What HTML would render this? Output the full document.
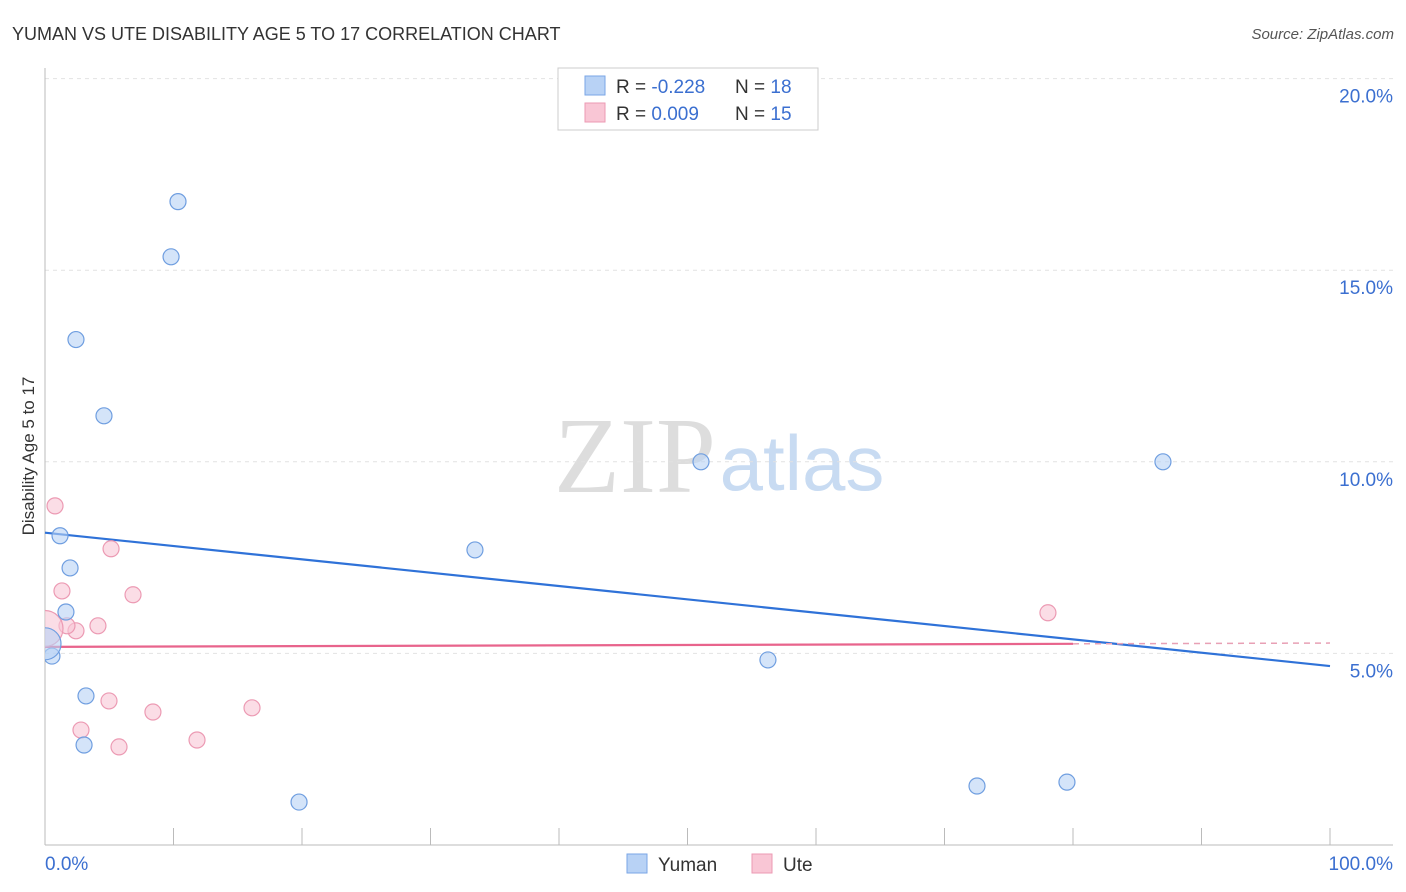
<!DOCTYPE html>
<html><head><meta charset="utf-8">
<style>
body{margin:0;background:#fff;font-family:"Liberation Sans",sans-serif;}
svg{display:block}
</style></head>
<body>
<svg id="chart" width="1406" height="892">
<defs><clipPath id="plotclip"><rect x="45" y="60" width="1360" height="785"/></clipPath></defs>
<text x="12" y="40" font-size="18" fill="#333">YUMAN VS UTE DISABILITY AGE 5 TO 17 CORRELATION CHART</text>
<text x="1394" y="39" font-size="15" font-style="italic" fill="#555" text-anchor="end">Source: ZipAtlas.com</text>
<text x="0" y="0" transform="translate(34,456) rotate(-90)" text-anchor="middle" font-size="17" fill="#333">Disability Age 5 to 17</text>
<g>
<text x="635" y="492" font-size="108" font-family="Liberation Serif,serif" fill="#ddd" text-anchor="middle">ZIP</text>
<text x="802" y="490" font-size="78" fill="#c8dbf2" text-anchor="middle">atlas</text>
</g>
<g id="grid"></g><g id="axes"></g><g id="lines"></g><g id="points" clip-path="url(#plotclip)"></g>
<g>
<rect x="558" y="68" width="260" height="62" fill="#fff" stroke="#ccc"/>
<rect x="585" y="76" width="20" height="19" fill="#b8d2f5" stroke="#7aa6e6"/>
<rect x="585" y="103" width="20" height="19" fill="#f9c6d5" stroke="#ec9ab3"/>
<text x="616" y="93" font-size="19" fill="#333">R = <tspan fill="#3b6fd0">-0.228</tspan></text>
<text x="735" y="93" font-size="19" fill="#333">N = <tspan fill="#3b6fd0">18</tspan></text>
<text x="616" y="120" font-size="19" fill="#333">R = <tspan fill="#3b6fd0"> 0.009</tspan></text>
<text x="735" y="120" font-size="19" fill="#333">N = <tspan fill="#3b6fd0">15</tspan></text>
</g>
<g>
<rect x="627" y="854" width="20" height="19" fill="#b8d2f5" stroke="#7aa6e6"/>
<text x="658" y="871" font-size="19" fill="#333">Yuman</text>
<rect x="752" y="854" width="20" height="19" fill="#f9c6d5" stroke="#ec9ab3"/>
<text x="783" y="871" font-size="19" fill="#333">Ute</text>
</g>
</svg>
<script>
const yumanX=[10.35,9.81,2.41,4.59,51.05,87.0,1.17,33.46,1.95,1.63,0.54,56.26,3.19,3.04,19.77,72.53,79.53,0];
const yumanY=[16.79,15.35,13.19,11.20,10.0,10.0,8.07,7.70,7.23,6.08,4.93,4.83,3.89,2.61,1.12,1.54,1.64,5.25];
const uteX=[0.78,5.14,1.32,6.85,4.12,2.41,1.71,78.05,4.98,2.80,8.40,16.11,11.83,5.76,0];
const uteY=[8.85,7.73,6.63,6.53,5.72,5.59,5.72,6.06,3.76,3.00,3.47,3.58,2.74,2.56,5.65];
const yumanTrend=[8.15,4.67];
const uteTrend=[5.17,5.25];
const yTicks=[5,10,15,20];
const xTickLabels=["0.0%","100.0%"];
const NS="http://www.w3.org/2000/svg";
const sx=v=>45+v*12.85, sy=v=>845-v*38.32;
function mk(p,t,a){const e=document.createElementNS(NS,t);for(const k in a)e.setAttribute(k,a[k]);document.getElementById(p).appendChild(e);return e;}
yTicks.forEach(t=>{
 const g=mk('grid','line',{x1:45,x2:1393,y1:sy(t),y2:sy(t),stroke:'#e2e2e2','stroke-dasharray':'4,4'});
 
 
 const l=mk('axes','text',{x:1393,y:sy(t)+24,'text-anchor':'end','font-size':19,fill:'#3b6fd0'});
 l.textContent=t.toFixed(1)+'%';
 
 
});
const ax=mk('axes','line',{x1:45,x2:1393,y1:845,y2:845,stroke:'#bbb'});


const ay=mk('axes','line',{x1:45,x2:45,y1:68,y2:845,stroke:'#bbb'});


for(let i=0;i<=10;i++){const t=mk('axes','line',{x1:sx(i*10),x2:sx(i*10),y1:828,y2:845,stroke:'#bbb'});
 
 }
xTickLabels.forEach((s,i)=>{const t=mk('axes','text',{x:i?1393:45,y:870,'text-anchor':i?'end':'start','font-size':19,fill:'#3b6fd0'});t.textContent=s;
 
 });
const bl=mk('lines','line',{x1:sx(0),x2:sx(100),y1:sy(yumanTrend[0]),y2:sy(yumanTrend[1]),stroke:'#2f72d8','stroke-width':2.2});


const pl=mk('lines','line',{x1:sx(0),x2:sx(80),y1:sy(uteTrend[0]),y2:sy(uteTrend[1]),stroke:'#e8648c','stroke-width':2.2});


const pd=mk('lines','line',{x1:sx(80),x2:sx(100),y1:sy(uteTrend[1]),y2:sy(uteTrend[0]+(uteTrend[1]-uteTrend[0])*1.25),stroke:'#e8a0b5','stroke-width':1.5,'stroke-dasharray':'6,5'});


function pts(X,Y,fill,stroke,name,bigR){X.forEach((x,i)=>{const big=(x===0);
 const c=mk('points','circle',{cx:sx(x),cy:sy(Y[i]),r:big?bigR:8,fill:fill,stroke:stroke,'stroke-width':1.2,'fill-opacity':0.6});
 
 });}
pts(uteX,uteY,'#f9c6d5','#ec9ab3','ute-point',18);
pts(yumanX,yumanY,'#b8d2f5','#6f9ee0','yuman-point',16);
</script>
</body></html>
